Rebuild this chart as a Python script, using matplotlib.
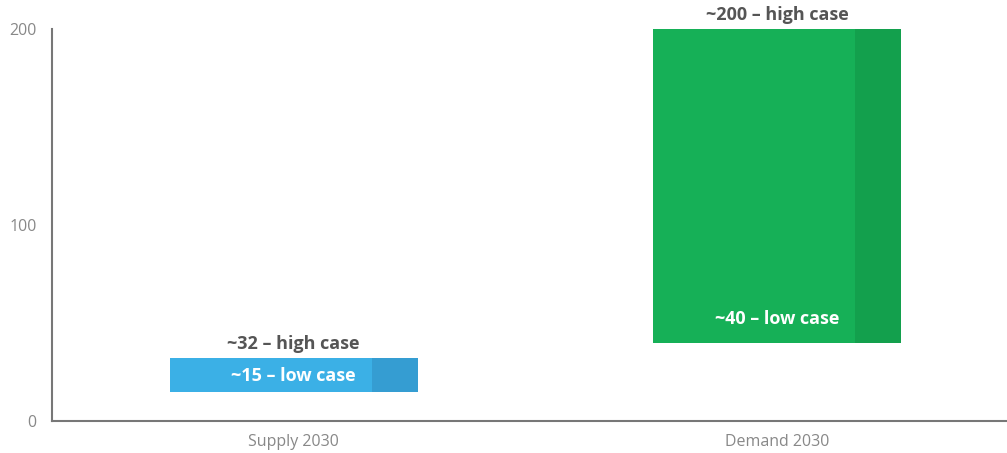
import matplotlib
matplotlib.use("Agg")
import matplotlib.pyplot as plt

categories = ["Supply 2030", "Demand 2030"]
low_values = [15, 40]
high_values = [32, 200]
low_labels = ["~15 – low case", "~40 – low case"]
high_labels = ["~32 – high case", "~200 – high case"]
yticks = [0, 100, 200]

main_colors = ["#3BB0E6", "#16B057"]
shade_colors = ["#359DD2", "#13A04D"]

plt.rcParams['font.family'] = ['Open Sans', 'DejaVu Sans']

fig = plt.figure(figsize=(10.07, 4.53), dpi=100)
ax = fig.add_axes([0.0516, 0.0706, 0.9484, 0.8654])

width = 0.513
shade_frac = 0.185
x = list(range(len(categories)))
for i in x:
    h = high_values[i] - low_values[i]
    ax.bar(i, h, bottom=low_values[i], width=width, color=main_colors[i], zorder=2)
    sw = width * shade_frac
    ax.bar(i + width / 2 - sw / 2, h, bottom=low_values[i], width=sw,
           color=shade_colors[i], zorder=3)
    ax.text(i, high_values[i] + 2.5, high_labels[i], ha='center', va='bottom',
            fontsize=13, fontweight='bold', color='#555555')

# low-case labels inside bars
ax.text(0, (low_values[0] + high_values[0]) / 2 - 0.5, low_labels[0], ha='center', va='center',
        fontsize=13, fontweight='bold', color='white', zorder=4)
ax.text(1, low_values[1] + 12, low_labels[1], ha='center', va='center',
        fontsize=13, fontweight='bold', color='white', zorder=4)

ax.set_xlim(-0.5, 1.475)
ax.set_ylim(0, 200)
ax.set_xticks(x)
ax.set_xticklabels(categories, fontsize=11.5, color='#888888')
ax.set_yticks(yticks)
ax.set_yticklabels([str(v) for v in yticks], fontsize=11.5, color='#888888')
ax.tick_params(length=0, pad=9)
ax.tick_params(axis='y', pad=11)
for s in ['top', 'right']:
    ax.spines[s].set_visible(False)
for s in ['left', 'bottom']:
    ax.spines[s].set_color('#777777')
    ax.spines[s].set_linewidth(1.5)

fig.savefig("out.png", dpi=100)
